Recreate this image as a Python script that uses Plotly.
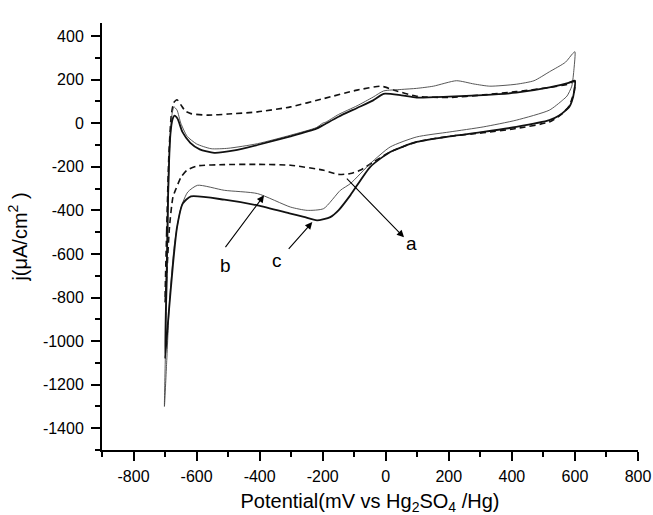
import plotly.graph_objects as go

# Curve a (dashed): forward (anodic) scan -700 -> 600, then reverse 600 -> -700
a_x = [-700, -695, -688, -680, -672, -662, -650, -635, -618, -565, -500, -407, -302, -197, -91, -18, -7, 30, 98, 200, 309, 414, 519, 580, 593, 600,
       598, 590, 582, 561, 519, 414, 309, 203, 98, 14, -39, -80, -112, -150, -197, -302, -407, -512, -597, -630, -649, -665, -675, -686, -693, -700]
a_y = [-820, -500, -150, 40, 95, 108, 85, 55, 44, 37, 42, 52, 75, 113, 152, 170, 168, 150, 124, 118, 130, 145, 164, 180, 190, 192,
       150, 110, 80, 45, 6, -24, -44, -60, -86, -132, -178, -215, -231, -235, -216, -193, -189, -190, -196, -215, -247, -300, -339, -477, -650, -820]

# Curve b (thin solid)
b_x = [-702, -695, -690, -685, -678, -672, -662, -650, -630, -600, -554, -500, -407, -302, -220, -200, -190, -150, -91, -40, -7, 50, 98, 151, 224, 280, 330, 414, 470, 519, 570, 593, 600,
       597, 590, 575, 561, 519, 414, 309, 203, 98, 14, -49, -112, -144, -197, -249, -302, -407, -512, -597, -628, -649, -670, -685, -695, -702]
b_y = [-1300, -800, -400, -100, 40, 75, 60, 0, -60, -95, -117, -115, -94, -55, -20, 0, 5, 40, 80, 120, 148, 155, 160, 170, 195, 180, 170, 179, 195, 236, 280, 320, 328,
       250, 170, 125, 106, 60, 14, -17, -40, -63, -109, -185, -277, -308, -392, -400, -385, -323, -308, -285, -316, -385, -553, -800, -1100, -1300]

# Curve c (thick solid)
c_x = [-700, -695, -690, -683, -676, -670, -660, -645, -620, -590, -544, -480, -407, -302, -220, -200, -150, -91, -40, -7, 50, 98, 200, 309, 414, 519, 580, 600,
       598, 590, 582, 550, 519, 414, 309, 203, 98, 14, -49, -112, -150, -176, -218, -260, -302, -407, -512, -618, -644, -662, -675, -690, -700]
c_y = [-1080, -700, -300, -50, 20, 35, 20, -40, -90, -120, -136, -125, -100, -60, -25, -10, 30, 70, 105, 135, 128, 118, 122, 129, 140, 164, 185, 195,
       150, 100, 75, 35, 14, -17, -40, -60, -86, -132, -200, -330, -400, -431, -446, -430, -415, -377, -351, -336, -369, -477, -650, -900, -1080]

x_ticks = [-800, -600, -400, -200, 0, 200, 400, 600, 800]
x_ticklabels = ["-800", "-600", "-400", "-200", "0", "200", "400", "600", "800"]
y_ticks = [400, 200, 0, -200, -400, -600, -800, -1000, -1200, -1400]
y_ticklabels = ["400", "200", "0", "-200", "-400", "-600", "-800", "-1000", "-1200", "-1400"]

fig = go.Figure()
fig.add_trace(go.Scatter(x=a_x, y=a_y, mode="lines", name="a",
                         line=dict(color="#111111", width=1.6, dash="6px,4px", shape="spline", smoothing=0.6)))
fig.add_trace(go.Scatter(x=b_x, y=b_y, mode="lines", name="b",
                         line=dict(color="#444444", width=0.9, shape="spline", smoothing=0.6)))
fig.add_trace(go.Scatter(x=c_x, y=c_y, mode="lines", name="c",
                         line=dict(color="#111111", width=1.8, shape="spline", smoothing=0.6)))

# arrows: (tail x, tail y) -> (head x, head y)
arrows = [(-128, -248, 58, -524), (-512, -576, -386, -331), (-312, -584, -233, -454)]
for tx, ty, hx, hy in arrows:
    fig.add_annotation(x=hx, y=hy, ax=tx, ay=ty, xref="x", yref="y", axref="x", ayref="y",
                       text="", showarrow=True, arrowhead=2, arrowsize=1.3, arrowwidth=1.1, arrowcolor="black")

labels = [("a", 82, -553), ("b", -507, -653), ("c", -345, -630)]
for t, lx, ly in labels:
    fig.add_annotation(x=lx, y=ly, xref="x", yref="y", text=t, showarrow=False,
                       font=dict(family="Arial, Liberation Sans", size=19, color="black"))

axis_common = dict(showline=True, linecolor="black", linewidth=2, ticks="outside", ticklen=9, tickwidth=1.5,
                   tickcolor="black", showgrid=False, zeroline=False, tickmode="array", automargin=False,
                   tickfont=dict(family="Arial, Liberation Sans", size=16, color="black"))

fig.update_layout(
    width=653, height=515,
    margin=dict(l=102, r=15, t=23, b=65),
    plot_bgcolor="white", paper_bgcolor="white",
    showlegend=False,
    xaxis=dict(range=[-900, 800], tickvals=x_ticks, ticktext=x_ticklabels, ticklabelstandoff=2,
               minor=dict(dtick=100, tick0=0, ticks="outside", ticklen=5, tickcolor="black", tickwidth=1.5),
               title=dict(text="Potential(mV vs Hg<sub>2</sub>SO<sub>4</sub> /Hg)", standoff=12,
                          font=dict(family="Arial, Liberation Sans", size=20, color="black")),
               **axis_common),
    yaxis=dict(range=[-1500, 460], tickvals=y_ticks, ticktext=y_ticklabels, ticklabelstandoff=4,
               minor=dict(dtick=100, tick0=0, ticks="outside", ticklen=5, tickcolor="black", tickwidth=1.5),
               title=dict(text="j(μA/cm<sup>2</sup> )", standoff=10,
                          font=dict(family="Arial, Liberation Sans", size=20, color="black")),
               **axis_common),
)

fig.write_html("out.html", config={"displayModeBar": False},
               post_script="document.body.style.margin='0';document.body.style.overflow='hidden';")
